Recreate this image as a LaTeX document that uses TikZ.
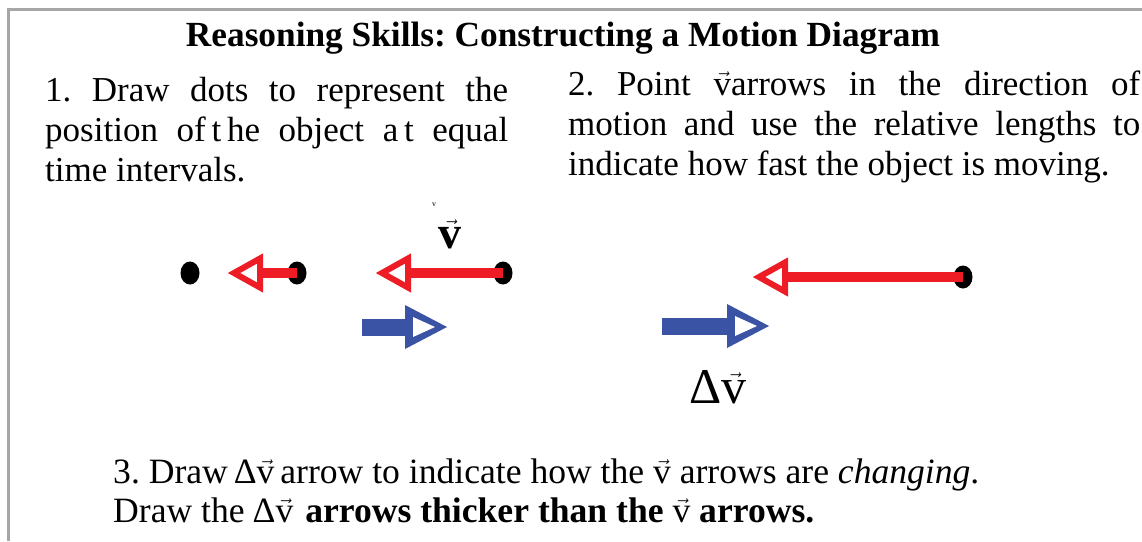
\documentclass[tikz,border=0pt]{standalone}
\usepackage{fontspec}
\setmainfont{Liberation Serif}
\usetikzlibrary{shapes.geometric}
\definecolor{redarr}{HTML}{EE1C25}
\definecolor{bluearr}{HTML}{3A53A4}
\definecolor{framegray}{HTML}{A6A6A6}
\frenchspacing
\newcommand\vecv{\ensuremath{\vec{\mbox{v}}}}
\newcommand\dvec{\ensuremath{\mbox{Δ}\vec{\mbox{v}}}}
\tikzset{
  dotnode/.style={ellipse, fill=black, minimum width=19pt, minimum height=23pt, inner sep=0pt},
  redshaft/.style={draw=redarr, line width=10pt},
  redhead/.style={draw=redarr, fill=white, line width=6pt, line join=miter},
  blueshaft/.style={draw=bluearr, line width=17pt},
  txt/.style={anchor=base west, inner sep=0pt, font=\fontsize{35}{40}\selectfont},
  bottxt/.style={anchor=base west, inner sep=0pt, font=\fontsize{35.6}{40}\selectfont},
}
\newcommand\redheadat[2]{\draw[redhead] (#1,#2) ++(0,-14.5) -- ++(-26,14.5) -- ++(26,14.5) -- cycle;}
\newcommand\blueheadat[2]{%
  \fill[bluearr] (#1,#2) ++(0,-22) -- ++(42,22) -- ++(-42,22) -- cycle;
  \fill[white] (#1,#2) ++(8,-10) -- ++(22,10) -- ++(-22,10) -- cycle;}
\begin{document}
\begin{tikzpicture}[x=1pt,y=-1pt]
\useasboundingbox (0,0) rectangle (1142,541);
\fill[white] (0,0) rectangle (1142,541);
\draw[framegray, line width=3pt] (8,541) -- (8,9.5) -- (1142,9.5);
% title
\node[anchor=base, inner sep=0pt, font=\fontsize{35.3}{40}\selectfont\bfseries] (title) at (563,46) {Reasoning Skills: Constructing a Motion Diagram};
% paragraph 1
\node[txt] (p1a) at (45,101) {\makebox[463pt][s]{1. Draw dots to represent the}};
\node[txt] (p1b) at (45,141) {\makebox[463pt][s]{position of\,t\,he object a\,t equal}};
\node[txt] (p1c) at (45,181) {time intervals.};
% paragraph 2
\node[txt] (p2a) at (568,95) {\makebox[572pt][s]{2. Point \vecv arrows in the direction of}};
\node[txt] (p2b) at (568,135) {\makebox[572pt][s]{motion and use the relative lengths to}};
\node[txt] (p2c) at (568,175) {indicate how fast the object is moving.};
% dots
\node[dotnode] (d1) at (190,273) {};
\node[dotnode] (d2) at (297,273) {};
\node[dotnode] (d3) at (503,273) {};
\node[dotnode] (d4) at (963,277) {};
% red velocity arrows
\coordinate (r1) at (260,273);
\coordinate (r2) at (408,273);
\coordinate (r3) at (785,277);
\draw[redshaft] (d2.center) -- (r1);
\redheadat{260}{273}
\draw[redshaft] (d3.center) -- (r2);
\redheadat{408}{273}
\draw[redshaft] (d4.center) -- (r3);
\redheadat{785}{277}
% blue delta-v arrows
\coordinate (b1s) at (362,327);
\coordinate (b1e) at (408,327);
\draw[blueshaft] (b1s) -- (b1e);
\blueheadat{405}{327}
\coordinate (b2s) at (662,326);
\coordinate (b2e) at (730,326);
\draw[blueshaft] (b2s) -- (b2e);
\blueheadat{727}{326}
% labels
\node[anchor=base, inner sep=0pt, font=\fontsize{8}{8}\selectfont] (tinyv) at (434,206) {v};
\node[anchor=base, inner sep=0pt, font=\fontsize{46}{46}\selectfont\bfseries] (vlab) at (450,248) {\vecv};
\node[anchor=base, inner sep=0pt, font=\fontsize{50}{50}\selectfont] (dvlab) at (718,403) {\dvec};
% bottom text
\node[bottxt] (q1) at (113,483) {3. Draw\,\dvec{}\,arrow to indicate how the \vecv{} arrows are \textit{changing}.};
\node[bottxt] (q2) at (113,522) {Draw the\hspace{8pt}\dvec{}\hspace{12pt}\textbf{arrows thicker than the {\mdseries\vecv} arrows.}};
\end{tikzpicture}
\end{document}
